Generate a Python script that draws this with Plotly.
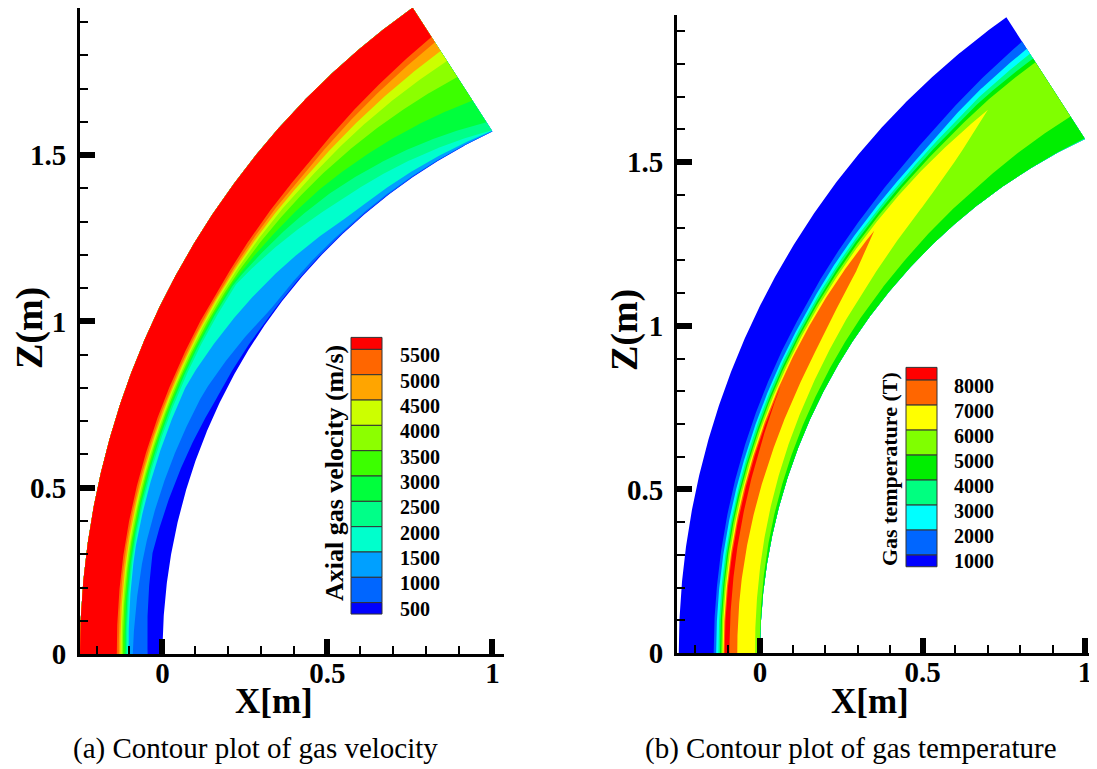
import numpy as np
import plotly.graph_objects as go

# The page body has an 8px margin and the capture is squeezed vertically by 769/785;
# the figure is sized / positioned so that the photographed result lands on target.
W, H = 1089, 777
OFF = 8
VSCALE = 785.0 / 769.0

# ---------------- geometry of the bent nozzle (m) ----------------
inner_wall_x = [0.0, 1.0]
inner_wall_z = [0.0, 1.571]
outer_wall_x = [-0.25, 0.758]
outer_wall_z = [0.0, 1.943]

# ---------------- (a) axial gas velocity ----------------
vel_levels = [500, 1000, 1500, 2000, 2500, 3000, 3500, 4000, 4500, 5000, 5500]
vel_colors = ["#0000FF", "#0066FF", "#00A0FF", "#00FFCC", "#00FF88", "#00FF3C",
              "#3CFF00", "#8CFF00", "#CCFF00", "#FFA500", "#FF6600", "#FF0000"]
vel_station_f = [0.0, 0.15, 0.4, 0.56, 0.75, 1.0]
# fraction across channel (0 = outer wall, 1 = inner wall) where each level is crossed
vel_t_500 = [0.82, 0.78, 0.95, 0.99, 0.996, 0.999]
vel_t_1000 = [0.64, 0.68, 0.80, 0.96, 0.985, 0.998]
vel_t_1500 = [0.59, 0.57, 0.60, 0.75, 0.93, 0.995]
vel_t_2000 = [0.57, 0.555, 0.555, 0.55, 0.78, 0.99]
vel_t_2500 = [0.555, 0.54, 0.535, 0.53, 0.68, 0.925]
vel_t_3000 = [0.54, 0.525, 0.52, 0.515, 0.60, 0.75]
vel_t_3500 = [0.52, 0.51, 0.505, 0.50, 0.52, 0.56]
vel_t_4000 = [0.505, 0.495, 0.49, 0.48, 0.47, 0.43]
vel_t_4500 = [0.49, 0.48, 0.475, 0.465, 0.44, 0.35]
vel_t_5000 = [0.47, 0.46, 0.46, 0.45, 0.41, 0.28]
vel_t_5500 = [0.446, 0.44, 0.44, 0.43, 0.38, 0.236]
vel_boundaries = [vel_t_500, vel_t_1000, vel_t_1500, vel_t_2000, vel_t_2500, vel_t_3000,
                  vel_t_3500, vel_t_4000, vel_t_4500, vel_t_5000, vel_t_5500]

# ---------------- (b) gas temperature ----------------
temp_levels = [1000, 2000, 3000, 4000, 5000, 6000, 7000, 8000]
temp_colors = ["#0000FF", "#0066FF", "#00FFFF", "#00FF80", "#00EE00",
               "#80FF00", "#FFFF00", "#FF6600", "#FF0000"]
temp_station_f = [0.0, 0.1, 0.2, 0.3, 0.4, 0.5, 0.6, 0.665, 0.75, 0.83, 0.905, 1.0]
temp_lo_1000 = [0.43, 0.43, 0.425, 0.42, 0.415, 0.41, 0.39, 0.375, 0.35, 0.31, 0.26, 0.20]
temp_hi_1000 = [1.0] * 12
temp_lo_2000 = [0.46, 0.46, 0.46, 0.46, 0.455, 0.45, 0.43, 0.42, 0.40, 0.36, 0.31, 0.26]
temp_hi_2000 = [1.0] * 12
temp_lo_3000 = [0.488, 0.487, 0.485, 0.48, 0.475, 0.47, 0.455, 0.445, 0.425, 0.39, 0.345, 0.30]
temp_hi_3000 = [1.0] * 12
temp_lo_4000 = [0.508, 0.506, 0.50, 0.50, 0.495, 0.49, 0.475, 0.465, 0.445, 0.415, 0.375, 0.34]
temp_hi_4000 = [1.0] * 11 + [0.995]
temp_lo_5000 = [0.524, 0.52, 0.515, 0.515, 0.51, 0.505, 0.495, 0.485, 0.465, 0.44, 0.405, 0.37]
temp_hi_5000 = [1.0, 0.985, 0.97, 0.96, 0.95, 0.94, 0.93, 0.92, 0.90, 0.88, 0.85, 0.815]
temp_lo_6000 = [0.54, 0.538, 0.535, 0.533, 0.53, 0.525, 0.515, 0.505, 0.49, 0.475, 0.46, 0.46]
temp_hi_6000 = [0.94, 0.93, 0.91, 0.89, 0.87, 0.84, 0.80, 0.76, 0.70, 0.60, 0.46, 0.46]
temp_lo_7000 = [0.552, 0.552, 0.55, 0.548, 0.546, 0.543, 0.54, 0.537, 0.537, 0.537, 0.537, 0.537]
temp_hi_7000 = [0.72, 0.72, 0.73, 0.74, 0.74, 0.72, 0.64, 0.537, 0.537, 0.537, 0.537, 0.537]
temp_lo_8000 = [0.565, 0.565, 0.565, 0.563, 0.56, 0.56, 0.56, 0.56, 0.56, 0.56, 0.56, 0.56]
temp_hi_8000 = [0.625, 0.62, 0.61, 0.595, 0.56, 0.56, 0.56, 0.56, 0.56, 0.56, 0.56, 0.56]
temp_lo = [temp_lo_1000, temp_lo_2000, temp_lo_3000, temp_lo_4000,
           temp_lo_5000, temp_lo_6000, temp_lo_7000, temp_lo_8000]
temp_hi = [temp_hi_1000, temp_hi_2000, temp_hi_3000, temp_hi_4000,
           temp_hi_5000, temp_hi_6000, temp_hi_7000, temp_hi_8000]

# ---------------- helpers ----------------
def arc(xs, zs, f):
    x0, x1 = xs
    z1 = zs[1]
    c = (x1 ** 2 + z1 ** 2 - x0 ** 2) / (2 * (x1 - x0))
    r = c - x0
    phi = np.arctan2(z1, c - x1)
    a = np.asarray(f) * phi
    return c - r * np.cos(a), r * np.sin(a)

F = np.linspace(0, 1, 401)
OX, OZ = arc(outer_wall_x, outer_wall_z, F)
IX, IZ = arc(inner_wall_x, inner_wall_z, F)

def band(t_lo, t_hi):
    w = t_hi - t_lo
    n = len(F)
    if np.any(w <= 1e-9):
        first_zero = int(np.argmax(w <= 1e-9))
        n = max(first_zero + 1, 2)
    sl = slice(0, n)
    x1 = OX[sl] + t_lo[sl] * (IX[sl] - OX[sl])
    z1 = OZ[sl] + t_lo[sl] * (IZ[sl] - OZ[sl])
    x2 = OX[sl] + t_hi[sl] * (IX[sl] - OX[sl])
    z2 = OZ[sl] + t_hi[sl] * (IZ[sl] - OZ[sl])
    return np.r_[x1, x2[::-1], x1[0]], np.r_[z1, z2[::-1], z1[0]]

def poly_trace(x, z, color, xa, ya):
    return go.Scatter(x=x, y=z, mode="lines", fill="toself", fillcolor=color,
                      line=dict(width=0, color=color), hoverinfo="skip",
                      showlegend=False, xaxis=xa, yaxis=ya)

fig = go.Figure()
zero = np.zeros_like(F)
one = np.ones_like(F)

# (a) velocity: region v > level lies between outer wall and boundary
x, z = band(zero, one)
fig.add_trace(poly_trace(x, z, vel_colors[0], "x", "y"))
for k, tb in enumerate(vel_boundaries):
    t = np.interp(F, vel_station_f, tb)
    x, z = band(zero, t)
    fig.add_trace(poly_trace(x, z, vel_colors[k + 1], "x", "y"))

# (b) temperature: region T > level lies between lo and hi
x, z = band(zero, one)
fig.add_trace(poly_trace(x, z, temp_colors[0], "x2", "y2"))
for k in range(len(temp_levels)):
    tl = np.interp(F, temp_station_f, temp_lo[k])
    th = np.interp(F, temp_station_f, temp_hi[k])
    x, z = band(tl, th)
    fig.add_trace(poly_trace(x, z, temp_colors[k + 1], "x2", "y2"))

# ---------------- axes ----------------
SERIF = "Liberation Serif, Times New Roman, serif"

def px_x(p):
    return min(1.0, max(0.0, (p - OFF) / W))

def px_y(p):
    return min(1.0, max(0.0, 1 - (p * VSCALE - OFF) / H))

def xaxis_cfg(dom, rng, anchor):
    major = [0, 0.5, 1]
    minor = [round(v, 1) for v in np.arange(-0.2, 1.01, 0.1) if round(v, 1) not in major]
    return dict(domain=dom, range=rng, anchor=anchor, showline=True, linewidth=3,
                linecolor="black", ticks="inside", ticklen=15, tickwidth=6, tickcolor="black",
                tickvals=major, ticktext=["<b>0</b>", "<b>0.5</b>", "<b>1</b>"],
                tickfont=dict(family=SERIF, size=29, color="black"),
                ticklabelstandoff=-9,
                minor=dict(tickvals=minor, ticks="inside", ticklen=8, tickwidth=2,
                           tickcolor="black"),
                showgrid=False, zeroline=False, fixedrange=True)

def yaxis_cfg(dom, rng, anchor):
    major = [0, 0.5, 1, 1.5]
    minor = [round(v, 1) for v in np.arange(0.1, 1.91, 0.1) if round(v, 1) not in major]
    return dict(domain=dom, range=rng, anchor=anchor, showline=True, linewidth=3,
                linecolor="black", ticks="inside", ticklen=15, tickwidth=6,
                tickcolor="black", tickvals=major,
                ticktext=["<b>0</b>", "<b>0.5</b>", "<b>1</b>", "<b>1.5</b>"],
                tickfont=dict(family=SERIF, size=29, color="black"),
                ticklabelstandoff=5,
                minor=dict(tickvals=minor, ticks="inside", ticklen=8, tickwidth=2,
                           tickcolor="black"),
                showgrid=False, zeroline=False, fixedrange=True)

TOP_L = 8.0 / VSCALE + 0.05
xa1 = xaxis_cfg([px_x(80), px_x(504)], [-0.25, 1.035], "y")
ya1 = yaxis_cfg([px_y(654), px_y(TOP_L)], [0, (654 - TOP_L) / 332.7], "x")
xa2 = xaxis_cfg([px_x(677), px_x(1096)], [-0.2554, 1.0338], "y2")
ya2 = yaxis_cfg([px_y(653), px_y(15)], [0, (653 - 15) / 327.3], "x2")

shapes = []
annotations = []

def text(px, py, s, size, bold=True, angle=0, xanchor="center"):
    annotations.append(dict(x=px_x(px), y=px_y(py), xref="paper", yref="paper",
                            text=("<b>%s</b>" % s) if bold else s, showarrow=False,
                            textangle=angle, xanchor=xanchor, yanchor="middle",
                            font=dict(family=SERIF, size=size, color="black")))

# axis titles
text(274, 701, "X[m]", 35)
text(870, 701, "X[m]", 35)
text(29, 328, "Z(m)", 38, angle=-90)
text(624, 330, "Z(m)", 38, angle=-90)

# captions
text(255, 748, "(a) Contour plot of gas velocity", 29, bold=False)
text(851, 748, "(b) Contour plot of gas temperature", 29, bold=False)

# ---------------- colour legends ----------------
def legend(x0, x1, top, first, step, n_full, bottom, colors, labels, lab_x,
           title, title_x, title_y, title_size):
    edges = [top] + [first + step * i for i in range(n_full + 1)] + [bottom]
    cols = list(reversed(colors))
    for i in range(len(edges) - 1):
        shapes.append(dict(type="rect", xref="paper", yref="paper",
                           x0=px_x(x0), x1=px_x(x1), y0=px_y(edges[i + 1]), y1=px_y(edges[i]),
                           fillcolor=cols[i], line=dict(color="#333333", width=1)))
    for i, lab in enumerate(reversed(labels)):
        text(lab_x, edges[i + 1] + 6, str(lab), 20, xanchor="left")
    text(title_x, title_y, title, title_size, angle=-90)

legend(351, 382, 337.3, 349.3, 25.33, 10, 614, vel_colors, vel_levels, 398,
       "Axial gas velocity (m/s)", 334, 473, 26)
legend(906, 937, 367.3, 380, 25, 7, 566.7, temp_colors, temp_levels, 952,
       "Gas temperature (T)", 889, 469, 22)

fig.update_layout(width=W, height=H, margin=dict(l=0, r=0, t=0, b=0),
                  paper_bgcolor="white", plot_bgcolor="white",
                  xaxis=xa1, yaxis=ya1, xaxis2=xa2, yaxis2=ya2,
                  shapes=shapes, annotations=annotations, showlegend=False)

fig.write_html("out.html")
